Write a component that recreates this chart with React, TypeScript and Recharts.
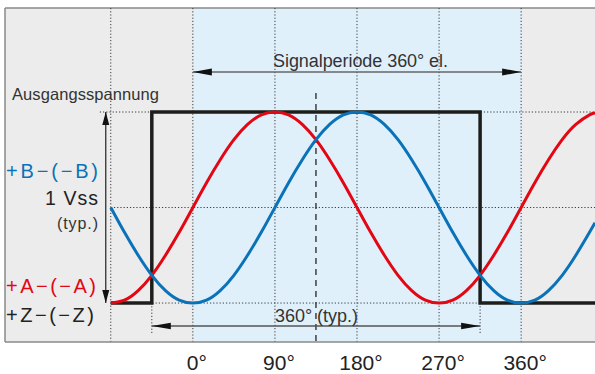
import {
  ComposedChart,
  Line,
  XAxis,
  YAxis,
  ReferenceArea,
  ReferenceLine,
} from "recharts";

// phase angle (° el.) and normalised output of the two track signals
const angles = [
  -90, -75, -60, -45, -30, -15, 0, 15, 30, 45, 60, 75, 90, 105, 120, 135, 150, 165, 180,
  195, 210, 225, 240, 255, 270, 285, 300, 315, 330, 345, 360, 375, 390, 405, 420, 435, 441,
];
const trackA = [
  -1, -0.97, -0.87, -0.71, -0.5, -0.26, 0, 0.26, 0.5, 0.71, 0.87, 0.97, 1, 0.97, 0.87, 0.71,
  0.5, 0.26, 0, -0.26, -0.5, -0.71, -0.87, -0.97, -1, -0.97, -0.87, -0.71, -0.5, -0.26, 0,
  0.26, 0.5, 0.71, 0.87, 0.97, 0.99,
];
const trackB = [
  0, -0.26, -0.5, -0.71, -0.87, -0.97, -1, -0.97, -0.87, -0.71, -0.5, -0.26, 0, 0.26, 0.5,
  0.71, 0.87, 0.97, 1, 0.97, 0.87, 0.71, 0.5, 0.26, 0, -0.26, -0.5, -0.71, -0.87, -0.97, -1,
  -0.97, -0.87, -0.71, -0.5, -0.26, -0.16,
];

// reference pulse Z
const zAngles = [-90, -45, -45, 315, 315, 441];
const zLevels = [-1, -1, 1, 1, -1, -1];

const xTicks = [0, 90, 180, 270, 360];
const gridAngles = [-90, 0, 90, 180, 270, 360];

const X_MIN = -206;
const X_MAX = 441;
const Y_MIN = -1.408;
const Y_MAX = 2.089;

const RED = "#e30613";
const BLUE = "#0a72b8";
const FONT = "'Liberation Sans', Arial, Helvetica, sans-serif";

const table = angles.map((x, i) => ({ x, a: trackA[i], b: trackB[i] }));
const zTable = zAngles.map((x, i) => ({ x, z: zLevels[i] }));

const dotted = { stroke: "#3a3a3a", strokeWidth: 1, strokeDasharray: "1.2 2" };

type LineShapeProps = { x1?: number; y1?: number; x2?: number; y2?: number };

function head(x: number, y: number, ang: number, len: number, half: number) {
  const c = Math.cos(ang);
  const s = Math.sin(ang);
  const bx = x - c * len;
  const by = y - s * len;
  return `${x},${y} ${bx - s * half},${by + c * half} ${bx + s * half},${by - c * half}`;
}

function arrow(color: string, width: number, len: number, half: number) {
  return (p: LineShapeProps) => {
    const x1 = p.x1 ?? 0;
    const y1 = p.y1 ?? 0;
    const x2 = p.x2 ?? 0;
    const y2 = p.y2 ?? 0;
    const ang = Math.atan2(y2 - y1, x2 - x1);
    return (
      <g>
        <line x1={x1} y1={y1} x2={x2} y2={y2} stroke={color} strokeWidth={width} />
        <polygon points={head(x2, y2, ang, len, half)} fill="#111" />
        <polygon points={head(x1, y1, ang + Math.PI, len, half)} fill="#111" />
      </g>
    );
  };
}

type TickProps = { x?: number; y?: number; payload?: { value: number } };

function DegTick({ x = 0, y = 0, payload }: TickProps) {
  return (
    <text x={x + 4} y={y + 26} textAnchor="middle" fontSize={21} fill="#222" fontFamily={FONT}>
      {payload?.value}°
    </text>
  );
}

export default function App() {
  return (
    <div style={{ position: "absolute", left: 0, top: 0, width: 595, height: 374 }}>
      <ComposedChart
        width={595}
        height={374}
        data={table}
        margin={{ top: 8, right: 0, bottom: 0, left: 5 }}
      >
        <XAxis
          dataKey="x"
          type="number"
          domain={[X_MIN, X_MAX]}
          ticks={xTicks}
          allowDataOverflow
          height={32}
          tickLine={false}
          tickSize={0}
          axisLine={{ stroke: "#8a8a8a", strokeWidth: 1.5 }}
          tick={<DegTick />}
        />
        <YAxis type="number" domain={[Y_MIN, Y_MAX]} allowDataOverflow hide />

        <ReferenceArea x1={X_MIN} x2={X_MAX} y1={Y_MIN} y2={Y_MAX} fill="#ececec" fillOpacity={1} />
        <ReferenceArea x1={0} x2={360} y1={Y_MIN} y2={Y_MAX} fill="#dff0fb" fillOpacity={1} />

        <ReferenceLine y={Y_MAX} stroke="#8a8a8a" strokeWidth={1.5} />
        <ReferenceLine x={X_MIN} stroke="#8a8a8a" strokeWidth={1.5} />

        {gridAngles.map((g) => (
          <ReferenceLine key={g} x={g} {...dotted} />
        ))}
        <ReferenceLine segment={[{ x: -90, y: 0 }, { x: X_MAX, y: 0 }]} {...dotted} />
        <ReferenceLine segment={[{ x: -90, y: -1 }, { x: 315, y: -1 }]} {...dotted} />
        <ReferenceLine segment={[{ x: -102, y: 1 }, { x: X_MAX, y: 1 }]} {...dotted} />
        <ReferenceLine segment={[{ x: -45, y: -1 }, { x: -45, y: -1.314 }]} {...dotted} />
        <ReferenceLine segment={[{ x: 315, y: -1 }, { x: 315, y: -1.314 }]} {...dotted} />
        <ReferenceLine
          segment={[{ x: 135, y: 1.2 }, { x: 135, y: Y_MIN }]}
          stroke="#333"
          strokeWidth={1.4}
          strokeDasharray="6 5"
        />

        <ReferenceLine
          segment={[{ x: 0, y: 1.419 }, { x: 360, y: 1.419 }]}
          shape={arrow("#666", 1.6, 19, 3.5)}
        />
        <ReferenceLine
          segment={[{ x: -45, y: -1.241 }, { x: 315, y: -1.241 }]}
          shape={arrow("#555", 1.4, 19, 3.2)}
        />
        <ReferenceLine
          segment={[{ x: -95.5, y: 1 }, { x: -95.5, y: -1 }]}
          shape={arrow("#222", 1.2, 13, 3.5)}
        />

        <Line
          data={zTable}
          dataKey="z"
          type="linear"
          stroke="#1d1d1b"
          strokeWidth={3.5}
          dot={false}
          activeDot={false}
          isAnimationActive={false}
        />
        <Line
          dataKey="a"
          type="natural"
          stroke={RED}
          strokeWidth={3}
          dot={false}
          activeDot={false}
          isAnimationActive={false}
        />
        <Line
          dataKey="b"
          type="natural"
          stroke={BLUE}
          strokeWidth={3}
          dot={false}
          activeDot={false}
          isAnimationActive={false}
        />
      </ComposedChart>

      <svg
        width={595}
        height={374}
        style={{ position: "absolute", left: 0, top: 0, pointerEvents: "none" }}
        fontFamily={FONT}
      >
        <text x={273} y={67} fontSize={18} fill="#333" textLength={175}>
          Signalperiode 360° el.
        </text>
        <text x={12} y={100} fontSize={16.5} fill="#333" textLength={147}>
          Ausgangsspannung
        </text>
        <text x={6} y={178} fontSize={20} fill={BLUE} textLength={92}>
          +B−(−B)
        </text>
        <text x={45} y={205} fontSize={19.5} fill="#222" textLength={53}>
          1 Vss
        </text>
        <text x={57} y={229} fontSize={16} fill="#333" textLength={41}>
          (typ.)
        </text>
        <text x={6} y={293} fontSize={20} fill={RED} textLength={90}>
          +A−(−A)
        </text>
        <text x={6} y={322} fontSize={20} fill="#222" textLength={88}>
          +Z−(−Z)
        </text>
        <text x={275} y={322} fontSize={18} fill="#333" textLength={83}>
          360° (typ.)
        </text>
      </svg>
    </div>
  );
}
